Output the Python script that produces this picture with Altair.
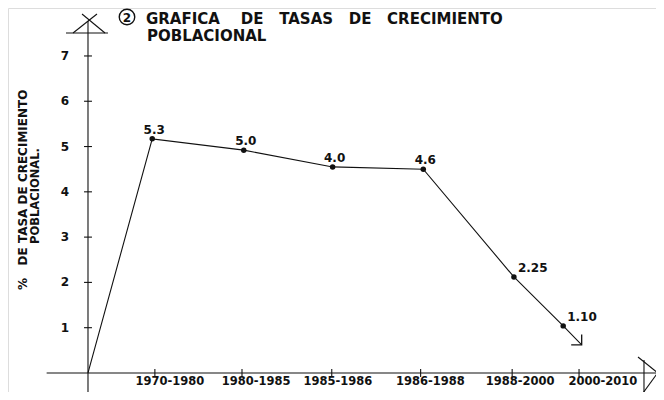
import altair as alt
import pandas as pd

# ---- data ----
periods = ["1970-1980", "1980-1985", "1985-1986", "1986-1988", "1988-2000", "2000-2010"]
tick_pos = [0.76, 1.75, 2.77, 3.78, 4.82, 5.58]          # hand-drawn tick positions on the x axis
label_pos = [0.93, 1.91, 2.84, 3.89, 4.91, 5.85]         # where each period label is written
point_pos = [0.73, 1.77, 2.78, 3.81, 4.84, 5.40]         # where each dot was drawn
rates = [5.17, 4.92, 4.55, 4.50, 2.12, 1.04]             # plotted height of each dot (%)
rate_labels = ["5.3", "5.0", "4.0", "4.6", "2.25", "1.10"]
y_ticks = [1, 2, 3, 4, 5, 6, 7]
line_start = [0.0, 0.0]
line_end = [5.61, 0.62]

FONT = "DejaVu Sans"
INK = "#111111"

xs = alt.Scale(domain=[-0.909, 6.4545], nice=False, zero=False)
ys = alt.Scale(domain=[-0.420, 8.059], nice=False, zero=False)

def X(f="x"):
    return alt.X(f"{f}:Q", scale=xs, axis=None)

def Y(f="y"):
    return alt.Y(f"{f}:Q", scale=ys, axis=None)

# axes drawn by hand (segments in data units)
segments = pd.DataFrame(
    [
        # main axes
        (-0.47, 0.0, 6.48, 0.0),
        (0.0, -0.55, 0.0, 7.77),
        # arrow on top of y axis
        (-0.17, 7.507, 0.102, 7.927),
        (0.193, 7.507, -0.068, 7.927),
        (-0.25, 7.507, 0.227, 7.507),
        # arrow at right end of x axis
        (6.25, 0.353, 6.50, -0.04),
        (6.307, -0.442, 6.48, 0.02),
        (6.318, 0.287, 6.318, -0.442),
    ],
    columns=["x", "y", "x2", "y2"],
)
axes_layer = alt.Chart(segments).mark_rule(color=INK, strokeWidth=1.1).encode(
    x=X(), y=Y(), x2="x2:Q", y2="y2:Q"
)

ytick_df = pd.DataFrame({"y": y_ticks, "x": -0.045, "x2": 0.045, "label": [str(v) for v in y_ticks]})
ytick_layer = alt.Chart(ytick_df).mark_rule(color=INK, strokeWidth=1.1).encode(
    x=X(), x2="x2:Q", y=Y()
)
ytick_text = alt.Chart(ytick_df).mark_text(
    font=FONT, fontWeight="bold", fontSize=12, color=INK, align="center", baseline="middle"
).encode(x=alt.value(57), y=Y(), text="label:N")

xtick_df = pd.DataFrame({"x": tick_pos, "y": -0.09, "y2": 0.09})
xtick_layer = alt.Chart(xtick_df).mark_rule(color=INK, strokeWidth=1.1).encode(
    x=X(), y=Y(), y2="y2:Q"
)
xlab_df = pd.DataFrame({"x": label_pos, "label": periods})
xtick_text = alt.Chart(xlab_df).mark_text(
    font=FONT, fontWeight="bold", fontSize=11.5, color=INK, align="center", baseline="middle"
).encode(x=X(), y=alt.value(374), text="label:N")

line_df = pd.DataFrame(
    {
        "x": [line_start[0]] + point_pos + [line_end[0]],
        "y": [line_start[1]] + rates + [line_end[1]],
        "o": list(range(len(point_pos) + 2)),
    }
)
line_layer = alt.Chart(line_df).mark_line(color=INK, strokeWidth=1.1).encode(
    x=X(), y=Y(), order="o:Q"
)

pts_df = pd.DataFrame({"x": point_pos, "y": rates, "label": rate_labels, "i": range(len(rates))})
pts_layer = alt.Chart(pts_df).mark_circle(color=INK, size=30, opacity=1).encode(x=X(), y=Y())

lab_top = alt.Chart(pts_df).transform_filter("datum.i < 4").mark_text(
    font=FONT, fontWeight="bold", fontSize=12, color=INK, align="center", baseline="middle", dx=2, dy=-9
).encode(x=X(), y=Y(), text="label:N")
lab_side = alt.Chart(pts_df).transform_filter("datum.i >= 4").mark_text(
    font=FONT, fontWeight="bold", fontSize=12, color=INK, align="left", baseline="middle", dx=4, dy=-9
).encode(x=X(), y=Y(), text="label:N")

end_df = pd.DataFrame({"x": [line_end[0]], "y": [line_end[1]]})
arrow_head = alt.Chart(end_df).mark_point(
    shape="M -1 0 L 0 0 L 0 -1", size=440, filled=False, color=INK, strokeWidth=1.3, opacity=1
).encode(x=X(), y=Y())

# title
title_df = pd.DataFrame({"t": ["x"]})
circle = alt.Chart(title_df).mark_point(
    shape="circle", size=240, filled=False, color=INK, strokeWidth=1.4, opacity=1
).encode(x=alt.value(119), y=alt.value(9))
circle_txt = alt.Chart(title_df).mark_text(
    font=FONT, fontWeight="bold", fontSize=12, color=INK, align="center", baseline="middle"
).encode(x=alt.value(119), y=alt.value(9.5), text=alt.value("2"))
NB = "\u00a0"
title1 = alt.Chart(title_df).mark_text(
    font=FONT, fontWeight="bold", fontSize=15, color=INK, align="left", baseline="alphabetic"
).encode(
    x=alt.value(138), y=alt.value(16),
    text=alt.value(f"GRAFICA{NB*4}DE{NB*3}TASAS{NB*3}DE{NB*3}CRECIMIENTO"),
)
title2 = alt.Chart(title_df).mark_text(
    font=FONT, fontWeight="bold", fontSize=15, color=INK, align="left", baseline="alphabetic"
).encode(x=alt.value(139), y=alt.value(33), text=alt.value("POBLACIONAL"))

ytitle1 = alt.Chart(title_df).mark_text(
    font=FONT, fontWeight="bold", fontSize=12, color=INK, align="left", baseline="middle", angle=270
).encode(x=alt.value(15), y=alt.value(282), text=alt.value(f"%{NB*3}DE{NB}TASA{NB}DE{NB}CRECIMIENTO"))
ytitle2 = alt.Chart(title_df).mark_text(
    font=FONT, fontWeight="bold", fontSize=11.5, color=INK, align="left", baseline="middle", angle=270
).encode(x=alt.value(28), y=alt.value(236), text=alt.value("POBLACIONAL."))

chart = alt.layer(
    axes_layer, ytick_layer, xtick_layer, line_layer, pts_layer, arrow_head,
    ytick_text, xtick_text, lab_top, lab_side,
    circle, circle_txt, title1, title2, ytitle1, ytitle2,
).properties(
    width=648, height=384, padding=0, autosize=alt.AutoSizeParams(type="none")
).configure_view(stroke=None).configure(background="white")

chart.save("out.html", embed_options={"renderer": "svg", "actions": False})
